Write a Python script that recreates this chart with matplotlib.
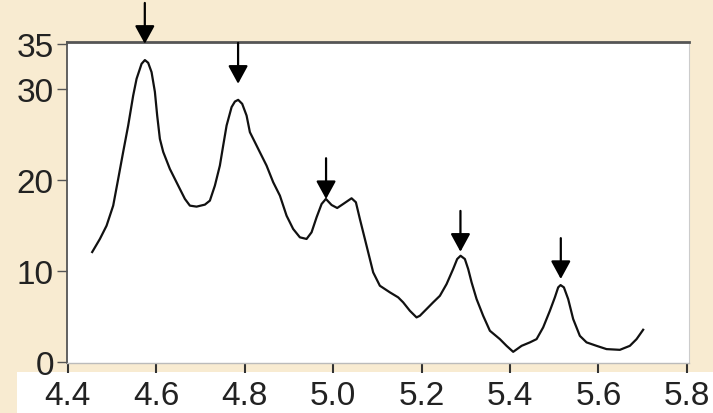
import matplotlib
matplotlib.use("Agg")
import matplotlib.pyplot as plt
from matplotlib.patches import Rectangle

# ---- data ----
x_vals = [4.4550, 4.4724, 4.4875, 4.5025, 4.5138, 4.5251, 4.5364, 4.5477, 4.5554, 4.5667,
          4.5742, 4.5816, 4.5893, 4.5968, 4.6020, 4.6081, 4.6156, 4.6307, 4.6420, 4.6533,
          4.6647, 4.6760, 4.6911, 4.7099, 4.7212, 4.7325, 4.7438, 4.7513, 4.7590, 4.7703,
          4.7778, 4.7852, 4.7943, 4.8042, 4.8117, 4.8230, 4.8343, 4.8494, 4.8644, 4.8796,
          4.8947, 4.9096, 4.9248, 4.9399, 4.9512, 4.9626, 4.9739, 4.9836, 4.9965, 5.0092,
          5.0227, 5.0417, 5.0515, 5.0605, 5.0718, 5.0831, 5.0906, 5.1057, 5.1284, 5.1471,
          5.1584, 5.1736, 5.1887, 5.1962, 5.2113, 5.2263, 5.2415, 5.2566, 5.2715, 5.2806,
          5.2883, 5.2980, 5.3055, 5.3132, 5.3245, 5.3394, 5.3546, 5.3772, 5.3923, 5.4073,
          5.4263, 5.4451, 5.4602, 5.4751, 5.4903, 5.5016, 5.5091, 5.5145, 5.5220, 5.5317,
          5.5430, 5.5581, 5.5733, 5.5959, 5.6185, 5.6486, 5.6712, 5.6864, 5.7013]
y_vals = [12.07, 13.51, 14.97, 17.18, 20.12, 23.10, 26.00, 29.30, 31.15, 32.80,
          33.21, 32.91, 31.88, 29.71, 27.10, 24.53, 23.10, 21.22, 20.12, 19.02,
          17.92, 17.18, 17.07, 17.29, 17.73, 19.38, 21.59, 23.79, 26.00, 28.03,
          28.64, 28.83, 28.39, 27.10, 25.27, 24.17, 23.06, 21.59, 19.76, 18.28,
          16.07, 14.61, 13.69, 13.51, 14.24, 15.90, 17.36, 17.92, 17.25, 16.92,
          17.36, 17.99, 17.55, 15.71, 13.51, 11.30, 9.83, 8.36, 7.63, 7.08,
          6.53, 5.60, 4.87, 5.05, 5.79, 6.53, 7.25, 8.54, 10.20, 11.30,
          11.66, 11.30, 10.20, 8.73, 6.89, 5.05, 3.40, 2.48, 1.74, 1.08,
          1.74, 2.12, 2.48, 3.77, 5.60, 7.08, 8.18, 8.43, 8.18, 6.89,
          4.69, 2.84, 2.12, 1.74, 1.38, 1.30, 1.74, 2.48, 3.51]

arrow_x = [4.574, 4.785, 4.984, 5.288, 5.515]
arrow_tip = [35.0, 30.6, 17.9, 12.1, 9.1]
arrow_len = 4.5

x_ticks = [4.4, 4.6, 4.8, 5.0, 5.2, 5.4, 5.6, 5.8]
x_ticklabels = ["4.4", "4.6", "4.8", "5.0", "5.2", "5.4", "5.6", "5.8"]
y_ticks = [0, 10, 20, 30, 35]
y_ticklabels = ["0", "10", "20", "30", "35"]

# ---- figure ----
W, H = 713, 414
plt.rcParams['font.family'] = ['Liberation Sans', 'DejaVu Sans']
fig = plt.figure(figsize=(W / 100, H / 100), dpi=100)
fig.patch.set_facecolor('#F8EBD1')

# white band behind x tick labels
band = Rectangle((17 / W, 0), 1 - 17 / W, (H - 373) / H,
                 transform=fig.transFigure, facecolor='white',
                 edgecolor='none', zorder=-5)
fig.add_artist(band)

ax = fig.add_axes([67 / W, (H - 364) / H, (689 - 67) / W, (364 - 43) / H])
ax.set_zorder(1)
ax.set_facecolor('white')

ax.plot(x_vals, y_vals, color='#111111', lw=1.6, solid_joinstyle='round')

for xa, ya in zip(arrow_x, arrow_tip):
    ax.annotate('', xy=(xa, ya), xytext=(xa, ya + arrow_len),
                arrowprops=dict(arrowstyle='-|>,head_length=0.55,head_width=0.3',
                                mutation_scale=20, lw=1.6, color='black',
                                shrinkA=0, shrinkB=0),
                annotation_clip=False)

ax.set_xlim(4.398, 5.805)
ax.set_ylim(-0.15, 35.2)
ax.set_xticks(x_ticks)
ax.set_xticklabels(x_ticklabels)
ax.set_yticks(y_ticks)
ax.set_yticklabels(y_ticklabels)

ax.tick_params(axis='x', direction='out', length=7.5, width=1.5, color='#333333',
               labelsize=24, labelcolor='#222222', pad=5)
ax.tick_params(axis='y', direction='out', length=7.5, width=1.0, color='#555555',
               labelsize=24, labelcolor='#222222', pad=2)

ax.spines['top'].set_color('#555555')
ax.spines['top'].set_linewidth(2.0)
ax.spines['left'].set_color('#555555')
ax.spines['left'].set_linewidth(1.3)
ax.spines['bottom'].set_color('#BBBBBB')
ax.spines['bottom'].set_linewidth(1.0)
ax.spines['right'].set_color('#CCCCCC')
ax.spines['right'].set_linewidth(0.8)

fig.savefig('out.png', dpi=100, facecolor=fig.get_facecolor())
